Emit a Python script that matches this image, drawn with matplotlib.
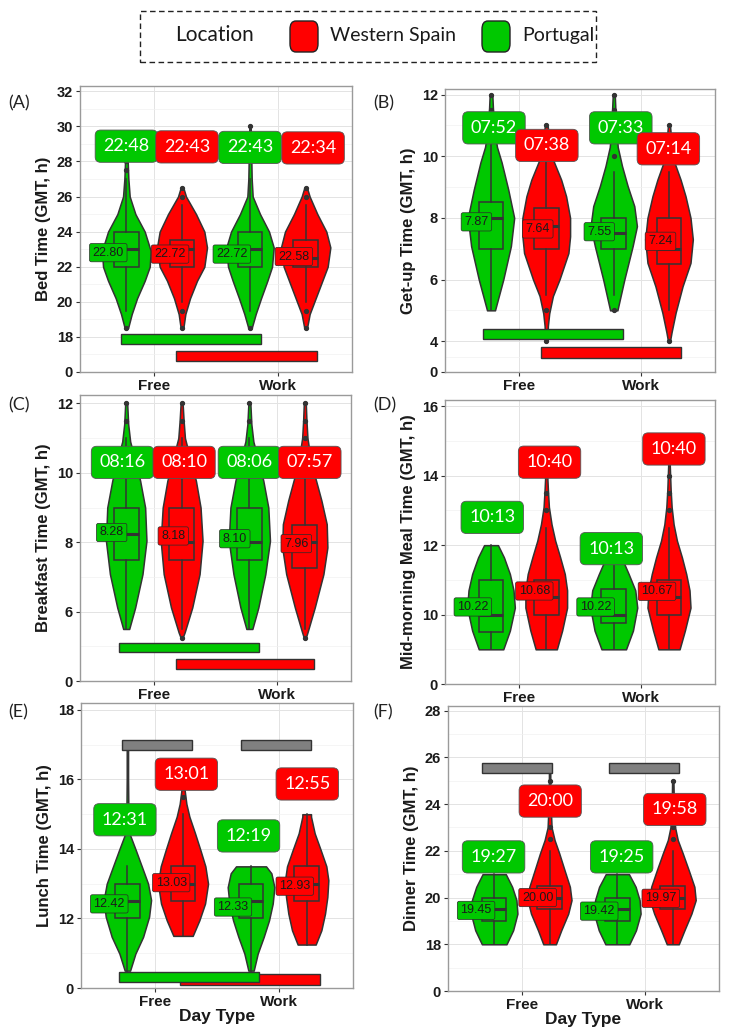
import matplotlib
matplotlib.use('Agg')
import matplotlib.pyplot as plt
from matplotlib.patches import Rectangle, FancyBboxPatch
import numpy as np

# ---------------- data ----------------
day_types = ['Free', 'Work']
locations = ['Portugal', 'Western Spain']
# group order in every panel: Portugal-Free, Spain-Free, Portugal-Work, Spain-Work
group_loc = ['Portugal', 'Western Spain', 'Portugal', 'Western Spain']
group_day = [1, 1, 2, 2]

# ---- (A) Bed time ----
A_vy = [[18.5, 19.3, 20.2, 21.2, 22.0, 22.9, 24.0, 25.0, 26.0, 27.0, 28.5],
        [18.5, 19.3, 20.2, 21.2, 22.0, 23.1, 24.0, 25.0, 26.0, 26.5],
        [18.5, 19.3, 20.2, 21.2, 22.0, 23.1, 24.0, 25.0, 26.0, 27.0, 28.0, 29.0, 30.0],
        [18.5, 19.3, 20.2, 21.2, 22.0, 23.1, 24.0, 25.0, 26.0, 26.5]]
A_vw = [[5, 16, 32, 55, 70, 73, 55, 27, 10, 6, 3],
        [4, 10, 24, 45, 67, 75, 67, 42, 12, 4],
        [5, 17, 33, 52, 66, 71, 57, 30, 8, 5, 4, 3, 2],
        [4, 12, 30, 50, 66, 74, 62, 35, 12, 4]]
A_q1 = [22, 22, 22, 22]
A_med = [23, 23, 23, 22.5]
A_q3 = [24, 23.5, 24, 23.5]
A_wlo = [19.5, 20, 19.5, 20]
A_whi = [27, 25.5, 27, 25.5]
A_fliers = [[18.5, 27.5, 28], [18.5, 19.5, 26, 26.5], [18.5, 28, 29, 30], [18.5, 19.5, 26, 26.5]]
A_means = [22.80, 22.72, 22.72, 22.58]
A_times = ['22:48', '22:43', '22:43', '22:34']

# ---- (B) Get-up time ----
B_vy = [[5.0, 6.0, 7.08, 8.0, 8.92, 9.8, 10.3, 10.86, 11.5, 12.0],
        [4.0, 4.5, 4.9, 5.46, 6.0, 6.86, 7.4, 8.0, 8.7, 9.24, 9.9, 10.5, 11.0],
        [5.0, 6.0, 7.08, 7.73, 8.38, 9.03, 9.68, 10.3, 11.0, 11.5, 12.0],
        [4.0, 4.3, 4.92, 5.78, 6.54, 7.3, 8.0, 8.7, 9.24, 9.78, 10.5, 11.0]]
B_vw = [[12, 37, 60, 70, 52, 32, 18, 10, 6, 4],
        [3, 5, 9, 20, 40, 67, 72, 72, 60, 45, 20, 10, 4],
        [11, 32, 57, 70, 62, 42, 25, 12, 7, 5, 3],
        [3, 8, 20, 41, 65, 72, 65, 50, 35, 17, 7, 3]]
B_q1 = [7, 7, 7, 6.5]
B_med = [8, 7.75, 7.5, 7]
B_q3 = [8.5, 8.33, 8, 8]
B_wlo = [5, 5.5, 5.5, 5]
B_whi = [10.5, 10, 9.5, 9.5]
B_fliers = [[11, 11.5, 12], [4, 5, 10.5, 11], [5, 10, 11, 11.5, 12], [4, 10.5, 11]]
B_means = [7.87, 7.64, 7.55, 7.24]
B_times = ['07:52', '07:38', '07:33', '07:14']

# ---- (C) Breakfast time ----
C_vy = [[5.5, 6.12, 7.08, 8.04, 9.0, 9.77, 10.25, 10.9, 11.4, 12.0],
        [5.25, 5.4, 6.12, 7.08, 8.04, 9.0, 9.77, 10.25, 11.0, 11.5, 12.0],
        [5.5, 6.12, 7.08, 8.04, 9.0, 9.77, 10.25, 10.9, 11.4, 12.0],
        [5.25, 5.4, 6.12, 7.08, 7.85, 8.52, 9.2, 9.77, 10.25, 11.0, 11.5, 12.0]]
C_vw = [[9, 27, 49, 61, 57, 42, 30, 12, 6, 3],
        [3, 9, 32, 54, 63, 57, 43, 30, 10, 6, 3],
        [9, 27, 48, 62, 57, 42, 30, 12, 6, 3],
        [3, 8, 30, 56, 68, 66, 50, 34, 20, 8, 5, 3]]
C_q1 = [7.5, 7.5, 7.5, 7.25]
C_med = [8.25, 8, 8, 8]
C_q3 = [9, 9, 9, 8.5]
C_wlo = [5.5, 5.5, 5.5, 5.5]
C_whi = [11, 11, 11, 10.25]
C_fliers = [[11.5, 12], [5.25, 11.5, 12], [11.5, 12], [5.25, 11, 11.5, 12]]
C_means = [8.28, 8.18, 8.10, 7.96]
C_times = ['08:16', '08:10', '08:06', '07:57']

# ---- (D) Mid-morning meal time ----
D_vy = [[9, 9.54, 10.2, 10.7, 11.17, 11.65, 12],
        [9, 9.54, 10.2, 10.7, 11.17, 11.65, 12.13, 12.6, 13.1, 13.6, 14.0],
        [9, 9.54, 10.2, 10.7, 11.17, 11.5],
        [9, 9.54, 10.2, 10.7, 11.17, 11.65, 12.13, 12.6, 13.1, 13.6, 14.4]]
D_vw = [[37, 57, 72, 68, 57, 39, 21],
        [32, 48, 63, 63, 56, 42, 27, 16, 8, 5, 3],
        [37, 58, 71, 65, 45, 30],
        [32, 48, 65, 62, 52, 39, 24, 14, 8, 5, 2]]
D_q1 = [9.5, 10, 9.75, 10]
D_med = [10, 10.5, 10, 10.5]
D_q3 = [11, 11, 10.75, 11]
D_wlo = [9, 9, 9, 9]
D_whi = [12, 12.5, 11.5, 12.5]
D_fliers = [[], [13, 13.5, 14], [], [13, 13.5, 14, 14.5]]
D_means = [10.22, 10.68, 10.22, 10.67]
D_times = ['10:13', '10:40', '10:13', '10:40']

# ---- (E) Lunch time ----
E_vy = [[10.5, 10.99, 11.47, 12.05, 12.53, 13.0, 13.5, 13.97, 14.4, 15, 16, 17],
        [11.5, 11.95, 12.43, 13.0, 13.5, 13.97, 14.45, 14.93, 15.3, 15.75],
        [10.5, 10.99, 11.47, 11.95, 12.43, 12.9, 13.3, 13.5],
        [11.25, 11.66, 12.14, 12.62, 13.1, 13.5, 13.97, 14.45, 14.93, 15.0]]
E_vw = [[8, 24, 47, 65, 71, 62, 43, 25, 8, 3, 2, 2],
        [29, 49, 66, 75, 67, 52, 36, 19, 10, 4],
        [8, 20, 38, 54, 65, 70, 61, 45],
        [27, 44, 55, 62, 65, 59, 42, 24, 13, 13]]
E_q1 = [12, 12.5, 12, 12.5]
E_med = [12.5, 13, 12.5, 13]
E_q3 = [13, 13.5, 13, 13.5]
E_wlo = [10.5, 11.5, 10.5, 11.25]
E_whi = [13.5, 15, 13.5, 15]
E_fliers = [[17], [15.5, 15.75], [], []]
E_means = [12.42, 13.03, 12.33, 12.93]
E_times = ['12:31', '13:01', '12:19', '12:55']

# ---- (F) Dinner time ----
F_vy = [[18, 18.6, 19.31, 19.89, 20.46, 21],
        [18, 18.6, 19.31, 19.89, 20.46, 21.17, 21.89, 22.46, 23, 24, 25, 25.3],
        [18, 18.6, 19.31, 19.89, 20.46, 21],
        [18, 18.6, 19.31, 19.89, 20.46, 21.17, 21.89, 22.46, 23, 24, 25]]
F_vw = [[37, 57, 70, 67, 54, 35],
        [19, 35, 56, 66, 61, 45, 29, 15, 6, 3, 2, 2],
        [36, 56, 70, 67, 55, 35],
        [18, 35, 56, 69, 65, 48, 30, 15, 7, 3, 2]]
F_q1 = [19, 19.5, 19, 19.5]
F_med = [19.5, 20, 19.5, 20]
F_q3 = [20, 20.5, 20, 20.5]
F_wlo = [18, 18, 18, 18]
F_whi = [21, 22, 21, 22]
F_fliers = [[], [22.5, 23, 24, 25], [], [22.5, 23, 24, 25]]
F_means = [19.45, 20.00, 19.42, 19.97]
F_times = ['19:27', '20:00', '19:25', '19:58']

y_labels = ['Bed Time (GMT, h)', 'Get-up Time (GMT, h)', 'Breakfast Time (GMT, h)',
            'Mid-morning Meal Time (GMT, h)', 'Lunch Time (GMT, h)', 'Dinner Time (GMT, h)']
panel_tags = ['(A)', '(B)', '(C)', '(D)', '(E)', '(F)']
tick_values = [[0, 18, 20, 22, 24, 26, 28, 30, 32],
               [0, 4, 6, 8, 10, 12],
               [0, 6, 8, 10, 12],
               [0, 10, 12, 14, 16],
               [0, 12, 14, 16, 18],
               [0, 18, 20, 22, 24, 26, 28]]

# ---------------- layout / style ----------------
plt.rcParams['font.family'] = ['Liberation Sans', 'DejaVu Sans']
GREEN = '#00C800'
RED = '#FF0000'
GREY = '#808080'
EDGE = '#333333'
COL = {'Portugal': GREEN, 'Western Spain': RED}
DODGE = 0.225
WSCALE = 1 / 370.8          # converts read violin widths into x units
AX_FONT = 'Liberation Sans'
LBL_FONT = 'Lato'

# axis-break position of the "0" tick and y-limits per panel
zero_pos = [16, 3, 4, 8, 10, 16]
y_top = [32.3, 12.18, 12.24, 16.18, 18.2, 28.2]
axes_rect = [[0.1093, 0.6406, 0.3716, 0.2763],
             [0.6079, 0.6406, 0.3689, 0.2734],
             [0.1093, 0.3420, 0.3702, 0.2763],
             [0.6079, 0.3391, 0.3689, 0.2744],
             [0.1107, 0.0454, 0.3716, 0.2754],
             [0.6120, 0.0425, 0.3702, 0.2754]]
time_y = [[28.87, 28.83, 28.8, 28.77],
          [10.92, 10.35, 10.92, 10.24],
          [10.3, 10.3, 10.3, 10.3],
          [12.8, 14.39, 11.9, 14.77],
          [14.84, 16.15, 14.375, 15.87],
          [21.74, 24.13, 21.74, 23.77]]
time_dx = [[0, 0.04, 0, 0.06],
           [0.024, 0.005, 0.057, -0.005],
           [-0.03, 0.02, 0, 0.04],
           [0.01, 0.027, -0.02, 0.04],
           [-0.02, 0.027, -0.02, 0.005],
           [-0.005, 0.005, 0.035, 0.016]]
# significance bars: (x0, x1, y0, y1, colour)
sig_bars = [
    [(0.73, 1.86, 17.6, 18.15, GREEN), (1.18, 2.32, 16.63, 17.2, RED)],
    [(0.71, 1.85, 4.07, 4.39, GREEN), (1.18, 2.32, 3.45, 3.81, RED)],
    [(0.72, 1.85, 4.83, 5.10, GREEN), (1.18, 2.30, 4.36, 4.63, RED)],
    [],
    [(1.2, 2.33, 10.1, 10.4, RED), (0.71, 1.84, 10.17, 10.46, GREEN),
     (0.73, 1.30, 16.85, 17.14, GREY), (1.69, 2.26, 16.85, 17.14, GREY)],
    [(0.676, 1.244, 25.32, 25.75, GREY), (1.707, 2.275, 25.32, 25.75, GREY)],
]

panels = [
    (A_vy, A_vw, A_q1, A_med, A_q3, A_wlo, A_whi, A_fliers, A_means, A_times),
    (B_vy, B_vw, B_q1, B_med, B_q3, B_wlo, B_whi, B_fliers, B_means, B_times),
    (C_vy, C_vw, C_q1, C_med, C_q3, C_wlo, C_whi, C_fliers, C_means, C_times),
    (D_vy, D_vw, D_q1, D_med, D_q3, D_wlo, D_whi, D_fliers, D_means, D_times),
    (E_vy, E_vw, E_q1, E_med, E_q3, E_wlo, E_whi, E_fliers, E_means, E_times),
    (F_vy, F_vw, F_q1, F_med, F_q3, F_wlo, F_whi, F_fliers, F_means, F_times),
]

fig = plt.figure(figsize=(7.32, 10.35), dpi=100)
W, H = 732, 1035

for i, (vy, vw, q1, med, q3, wlo, whi, fl, means, times) in enumerate(panels):
    ax = fig.add_axes(axes_rect[i])
    pos = [d + (-DODGE if loc == 'Portugal' else DODGE) for d, loc in zip(group_day, group_loc)]
    colors = [COL[l] for l in group_loc]

    # violins
    stats = []
    widths = []
    for k in range(4):
        y = np.array(vy[k], float)
        w = np.array(vw[k], float) * WSCALE
        stats.append(dict(coords=y, vals=w, mean=means[k], median=med[k], min=y.min(), max=y.max()))
        widths.append(2 * w.max())
    parts = ax.violin(stats, positions=pos, widths=widths, showmeans=False,
                      showextrema=False, showmedians=False)
    for b, c in zip(parts['bodies'], colors):
        b.set_facecolor(c)
        b.set_edgecolor(EDGE)
        b.set_alpha(1)
        b.set_linewidth(1.1)
        b.set_zorder(2)

    # boxplots
    bstats = [dict(med=med[k], q1=q1[k], q3=q3[k], whislo=wlo[k], whishi=whi[k],
                   fliers=fl[k]) for k in range(4)]
    ax.bxp(bstats, positions=pos, widths=0.2, patch_artist=True, showcaps=False,
           manage_ticks=False,
           boxprops=dict(facecolor='none', edgecolor=EDGE, linewidth=1.1, zorder=3),
           medianprops=dict(color=EDGE, linewidth=2.2, zorder=3),
           whiskerprops=dict(color=EDGE, linewidth=1.1, zorder=3),
           flierprops=dict(marker='o', markersize=2.8, markerfacecolor=EDGE,
                           markeredgecolor=EDGE, zorder=3))

    # significance bars
    for (x0, x1, y0, y1, c) in sig_bars[i]:
        ax.add_patch(Rectangle((x0, y0), x1 - x0, y1 - y0, facecolor=c,
                               edgecolor=EDGE, linewidth=1.0, zorder=4))

    # mean labels
    for k in range(4):
        off = -0.02 if group_loc[k] == 'Portugal' else 0.03
        ax.text(pos[k] + off, means[k], f'{means[k]:.2f}', ha='right', va='center',
                fontsize=9, family=AX_FONT, color='#1a1a1a', zorder=5,
                bbox=dict(boxstyle='round,pad=0.25,rounding_size=0.15', facecolor=colors[k],
                          edgecolor='#2a2a2a', linewidth=0.5))
    # mean time labels
    for k in range(4):
        ax.text(pos[k] + time_dx[i][k], time_y[i][k], times[k], ha='center', va='center',
                fontsize=13, family=LBL_FONT, color='white', zorder=6,
                bbox=dict(boxstyle='round,pad=0.45,rounding_size=0.3', facecolor=colors[k],
                          edgecolor='#555555', linewidth=0.6))

    # axes, ticks, grid
    tv = tick_values[i]
    tpos = [zero_pos[i]] + tv[1:]
    ax.set_ylim(zero_pos[i], y_top[i])
    ax.set_xlim(0.4, 2.6)
    ax.set_yticks(tpos)
    ax.set_yticklabels([str(v) for v in tv])
    minor = [(a + b) / 2 for a, b in zip(tpos[:-1], tpos[1:])]
    ax.set_yticks(minor, minor=True)
    ax.set_xticks([1, 2])
    ax.set_xticklabels(day_types)
    ax.tick_params(axis='y', which='minor', length=0)
    ax.tick_params(axis='both', which='major', length=3, width=0.8, color=EDGE, pad=2)
    for lab in ax.get_yticklabels():
        lab.set_fontfamily(AX_FONT); lab.set_fontweight('bold'); lab.set_fontsize(10.5); lab.set_color('#1a1a1a')
    for lab in ax.get_xticklabels():
        lab.set_fontfamily(AX_FONT); lab.set_fontweight('bold'); lab.set_fontsize(11); lab.set_color('#1a1a1a')
    ax.grid(True, which='major', color='#e3e3e3', linewidth=0.7)
    ax.grid(True, which='minor', axis='y', color='#f1f1f1', linewidth=0.5)
    ax.set_axisbelow(True)
    for s in ax.spines.values():
        s.set_color('#9a9a9a')
        s.set_linewidth(1.0)
    ax.set_ylabel(y_labels[i], fontsize=12, fontweight='bold', family=AX_FONT,
                  color='#1a1a1a', labelpad=4)
    if i >= 4:
        ax.set_xlabel('Day Type', fontsize=12.5, fontweight='bold', family=AX_FONT,
                      color='#1a1a1a', labelpad=0)
    # panel tag
    x_tag = 8 if i % 2 == 0 else 373
    y_tag = [103, 103, 405, 405, 712, 712][i]
    fig.text(x_tag / W, 1 - y_tag / H, panel_tags[i], fontsize=13, family=LBL_FONT,
             ha='left', va='center', color='#222222')

# ---------------- legend ----------------
fig.add_artist(Rectangle((140 / W, 1 - 62 / H), 456 / W, 51 / H, transform=fig.transFigure,
                         facecolor='none', edgecolor='#222222', linewidth=1.0,
                         linestyle=(0, (4, 2.5))))
fig.text(175 / W, 1 - 35 / H, 'Location', fontsize=15, family=LBL_FONT, ha='left',
         va='center', color='#1a1a1a')
for x0, c, lab in [(290, RED, 'Western Spain'), (482, GREEN, 'Portugal')]:
    fig.add_artist(FancyBboxPatch((x0 / W, 1 - 52 / H), 28 / W, 31 / H,
                                  boxstyle='round,pad=0,rounding_size=0.008',
                                  transform=fig.transFigure, facecolor=c,
                                  edgecolor='#222222', linewidth=1.0))
    fig.text((x0 + 40) / W, 1 - 36 / H, lab, fontsize=14, family=LBL_FONT, ha='left',
             va='center', color='#1a1a1a')

fig.savefig('out.png', dpi=100)
